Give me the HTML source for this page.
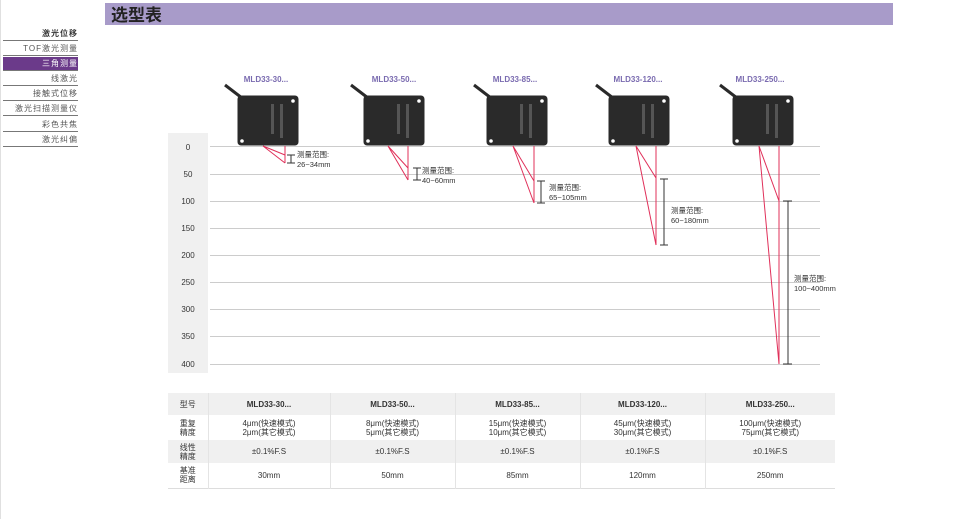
<!DOCTYPE html>
<html><head><meta charset="utf-8"><style>
body{margin:0;width:953px;height:519px;background:#fff;position:relative;overflow:hidden;font-family:"Liberation Sans","Noto Sans CJK SC",sans-serif;}
.side{position:absolute;left:0;top:0;width:1px;height:519px;background:#e0e0e0}
.nav{position:absolute;left:3px;width:75px;height:14px;font-size:8px;color:#555;text-align:right;border-bottom:1.5px solid #777;line-height:14px;padding-right:0;box-sizing:border-box;letter-spacing:1px}
.title{position:absolute;left:105px;top:3px;width:788px;height:22px;background:#a89bc9;font-size:17px;font-weight:bold;color:#222;line-height:22px;padding-left:6px;box-sizing:border-box;font-family:"Noto Sans CJK SC",sans-serif}
table{position:absolute;left:168px;top:393px;width:667px;border-collapse:collapse;font-size:8px;color:#333;text-align:center;table-layout:fixed}
td{border-right:1px solid #e4e4e4;padding:0;line-height:9px}
tr.g td{background:#f0f0f0}
</style></head><body>
<div class="side"></div>
<div class="title">选型表</div>
<div class="nav" style="top:27px;color:#333;font-weight:bold">激光位移</div>
<div class="nav" style="top:42px">TOF激光测量</div>
<div class="nav" style="top:57px;background:#6b3a8a;color:#fff">三角测量</div>
<div class="nav" style="top:72px">线激光</div>
<div class="nav" style="top:87px">接触式位移</div>
<div class="nav" style="top:102px">激光扫描测量仪</div>
<div class="nav" style="top:118px">彩色共焦</div>
<div class="nav" style="top:133px">激光纠偏</div>
<svg width="953" height="519" style="position:absolute;left:0;top:0" font-family="Liberation Sans, Noto Sans CJK SC, sans-serif">
<rect x="168" y="133" width="40" height="240" fill="#f0f0f0"/>
<g font-size="8" fill="#333" text-anchor="middle">
<text x="188" y="150">0</text><text x="188" y="177">50</text><text x="188" y="204">100</text><text x="188" y="231">150</text><text x="188" y="258">200</text><text x="188" y="285">250</text><text x="188" y="312">300</text><text x="188" y="339">350</text><text x="188" y="367">400</text>
</g>
<g stroke="#ccc" stroke-width="1">
<line x1="210" y1="146.5" x2="820" y2="146.5"/><line x1="210" y1="174.5" x2="820" y2="174.5"/><line x1="210" y1="201.5" x2="820" y2="201.5"/><line x1="210" y1="228.5" x2="820" y2="228.5"/><line x1="210" y1="255.5" x2="820" y2="255.5"/><line x1="210" y1="282.5" x2="820" y2="282.5"/><line x1="210" y1="309.5" x2="820" y2="309.5"/><line x1="210" y1="336.5" x2="820" y2="336.5"/><line x1="210" y1="364.5" x2="820" y2="364.5"/>
</g>
<g font-size="8" font-weight="bold" fill="#7a6bb0" text-anchor="middle">
<text x="266" y="82">MLD33-30...</text><text x="394" y="82">MLD33-50...</text><text x="515" y="82">MLD33-85...</text><text x="638" y="82">MLD33-120...</text><text x="760" y="82">MLD33-250...</text>
</g>
<g fill="#2a2a2a" stroke="#2a2a2a">
<path d="M225 85 L242 98" stroke-width="3" fill="none"/><rect x="238" y="96" width="60" height="49" rx="3"/>
<path d="M351 85 L368 98" stroke-width="3" fill="none"/><rect x="364" y="96" width="60" height="49" rx="3"/>
<path d="M474 85 L491 98" stroke-width="3" fill="none"/><rect x="487" y="96" width="60" height="49" rx="3"/>
<path d="M596 85 L613 98" stroke-width="3" fill="none"/><rect x="609" y="96" width="60" height="49" rx="3"/>
<path d="M720 85 L737 98" stroke-width="3" fill="none"/><rect x="733" y="96" width="60" height="49" rx="3"/>
</g>
<g fill="#fff">
<circle cx="293" cy="101" r="1.8"/><circle cx="242" cy="141" r="1.8"/>
<circle cx="419" cy="101" r="1.8"/><circle cx="368" cy="141" r="1.8"/>
<circle cx="542" cy="101" r="1.8"/><circle cx="491" cy="141" r="1.8"/>
<circle cx="664" cy="101" r="1.8"/><circle cx="613" cy="141" r="1.8"/>
<circle cx="788" cy="101" r="1.8"/><circle cx="737" cy="141" r="1.8"/>
</g>
<g fill="#555"><rect x="271" y="104" width="3" height="30"/><rect x="280" y="104" width="3" height="34"/><rect x="397" y="104" width="3" height="30"/><rect x="406" y="104" width="3" height="34"/><rect x="520" y="104" width="3" height="30"/><rect x="529" y="104" width="3" height="34"/><rect x="642" y="104" width="3" height="30"/><rect x="651" y="104" width="3" height="34"/><rect x="766" y="104" width="3" height="30"/><rect x="775" y="104" width="3" height="34"/></g>
<g stroke="#e0305a" stroke-width="1" fill="none">
<path d="M263 146 L285 155 M263 146 L285 163 M285 146 L285 163"/>
<path d="M388 146 L408 168 M388 146 L408 180 M408 146 L408 180"/>
<path d="M513 146 L534 181 M513 146 L534 203 M534 146 L534 203"/>
<path d="M636 146 L656 178 M636 146 L656 245 M656 146 L656 245"/>
<path d="M759 146 L779 201 M759 146 L779 364 M779 146 L779 364"/>
</g>
<g stroke="#333" stroke-width="1" fill="none">
<path d="M287 155 H295 M291 155 V163 M287 163 H295"/>
<path d="M413 168 H421 M417 168 V180 M413 180 H421"/>
<path d="M537 181 H545 M541 181 V203 M537 203 H545"/>
<path d="M660 179 H668 M664 179 V245 M660 245 H668"/>
<path d="M783 201 H792 M788 201 V364 M783 364 H792"/>
</g>
<g font-size="7.5" fill="#333">
<text x="297" y="157">测量范围:</text><text x="297" y="167">26~34mm</text>
<text x="422" y="173">测量范围:</text><text x="422" y="183">40~60mm</text>
<text x="549" y="190">测量范围:</text><text x="549" y="200">65~105mm</text>
<text x="671" y="213">测量范围:</text><text x="671" y="223">60~180mm</text>
<text x="794" y="281">测量范围:</text><text x="794" y="291">100~400mm</text>
</g>
</svg>
<table>
<colgroup><col style="width:40px"><col style="width:122px"><col style="width:125px"><col style="width:125px"><col style="width:125px"><col style="width:130px"></colgroup>
<tr class="g" style="height:22px"><td>型号</td><td style="font-weight:bold">MLD33-30...</td><td style="font-weight:bold">MLD33-50...</td><td style="font-weight:bold">MLD33-85...</td><td style="font-weight:bold">MLD33-120...</td><td style="font-weight:bold;border-right:none">MLD33-250...</td></tr>
<tr style="height:25px"><td>重复<br>精度</td><td>4μm(快速模式)<br>2μm(其它模式)</td><td>8μm(快速模式)<br>5μm(其它模式)</td><td>15μm(快速模式)<br>10μm(其它模式)</td><td>45μm(快速模式)<br>30μm(其它模式)</td><td style="border-right:none">100μm(快速模式)<br>75μm(其它模式)</td></tr>
<tr class="g" style="height:23px"><td>线性<br>精度</td><td>±0.1%F.S</td><td>±0.1%F.S</td><td>±0.1%F.S</td><td>±0.1%F.S</td><td style="border-right:none">±0.1%F.S</td></tr>
<tr style="height:25px;border-bottom:1px solid #ddd"><td>基准<br>距离</td><td>30mm</td><td>50mm</td><td>85mm</td><td>120mm</td><td style="border-right:none">250mm</td></tr>
</table>
</body></html>
